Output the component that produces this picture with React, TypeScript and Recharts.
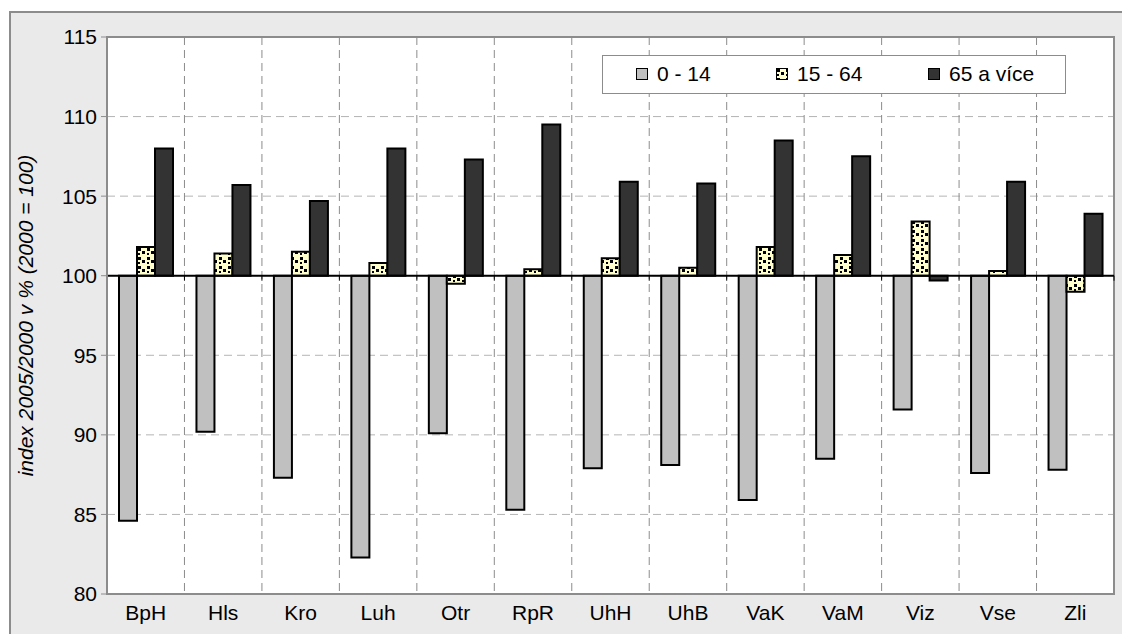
import React from 'react';
import {
  BarChart, Bar, XAxis, YAxis, CartesianGrid, ReferenceLine, ReferenceArea, Label,
} from 'recharts';

// okresy Zlínského kraje
const districts = ['BpH', 'Hls', 'Kro', 'Luh', 'Otr', 'RpR', 'UhH', 'UhB', 'VaK', 'VaM', 'Viz', 'Vse', 'Zli'];

// index 2005/2000 v %
const age0to14 = [84.6, 90.2, 87.3, 82.3, 90.1, 85.3, 87.9, 88.1, 85.9, 88.5, 91.6, 87.6, 87.8];
const age15to64 = [101.8, 101.4, 101.5, 100.8, 99.5, 100.4, 101.1, 100.5, 101.8, 101.3, 103.4, 100.3, 99.0];
const age65plus = [108.0, 105.7, 104.7, 108.0, 107.3, 109.5, 105.9, 105.8, 108.5, 107.5, 99.7, 105.9, 103.9];

const yTicks = [80, 85, 90, 95, 100, 105, 110, 115];
const seriesNames = ['0 - 14', '15 - 64', '65 a více'];

const BASE = 100;

const data = districts.map((name, i) => ({
  name,
  young: age0to14[i],
  middle: age15to64[i],
  old: age65plus[i],
}));

const FONT = '"Liberation Sans", Arial, sans-serif';
const FS = 21;
const fills = ['#c0c0c0', 'url(#dotsPattern)', '#333333'];

const LegendBox = () => {
  const lefts = [33, 173, 325];
  return (
    <div
      style={{
        position: 'absolute',
        left: 591,
        top: 42,
        width: 462,
        height: 37,
        background: '#fff',
        border: '1px solid #8c8c8c',
        fontFamily: FONT,
        fontSize: FS,
        color: '#000',
      }}
    >
      {seriesNames.map((s, i) => (
        <div key={s} style={{ position: 'absolute', left: lefts[i], top: 6, display: 'flex', alignItems: 'center', whiteSpace: 'nowrap' }}>
          <svg width={12} height={12} style={{ marginRight: 9 }}>
            <rect x={0.5} y={0.5} width={11} height={11} fill={fills[i]} stroke="#000" strokeWidth={1} />
          </svg>
          <span>{s}</span>
        </div>
      ))}
    </div>
  );
};

// linie 100 s drobnými značkami na hranicích kategorií
const BaseLine = (props: any) => {
  const { x1, x2, y1 } = props;
  const step = (x2 - x1) / districts.length;
  return (
    <g>
      <line x1={x1} x2={x2} y1={y1} y2={y1} stroke="#000" strokeWidth={2} />
      {districts.map((_, i) => (
        <line key={i} x1={x1 + i * step} x2={x1 + i * step} y1={y1} y2={y1 + 5} stroke="#000" strokeWidth={1} />
      ))}
      <line x1={x2} x2={x2} y1={y1} y2={y1 + 5} stroke="#000" strokeWidth={1} />
    </g>
  );
};

export default function App() {
  return (
    <div style={{ paddingTop: 3, paddingLeft: 1 }}>
      <svg width={0} height={0} style={{ position: 'absolute' }}>
        <defs>
          <pattern id="dotsPattern" width={9} height={9} patternUnits="userSpaceOnUse">
            <rect width={9} height={9} fill="#ffffcc" />
            <rect x={1} y={1} width={3} height={3} fill="#000" />
            <rect x={5} y={4} width={3} height={3} fill="#000" />
            <rect x={1} y={6} width={2} height={2} fill="#000" />
          </pattern>
        </defs>
      </svg>
      <div
        style={{
          position: 'relative',
          width: 1116,
          height: 640,
          background: '#eaeaea',
          border: '2px solid #8c8c8c',
        }}
      >
        <BarChart
          width={1116}
          height={620}
          data={data}
          margin={{ top: 24, right: 13, left: 0, bottom: 9 }}
          barCategoryGap={12}
          barGap={0}
        >
          <CartesianGrid
            vertical={false}
            fill="#ffffff"
            stroke="#b4b4b4"
            strokeDasharray="8 5"
          />
          <CartesianGrid
            horizontal={false}
            stroke="#8c8c8c"
            strokeDasharray="8 5"
            verticalCoordinatesGenerator={({ offset }: any) =>
              districts.slice(1).map((_, i) => offset.left + ((i + 1) * offset.width) / districts.length)
            }
          />
          <XAxis
            dataKey="name"
            height={30}
            tickLine={false}
            axisLine={{ stroke: '#8c8c8c', strokeWidth: 2 }}
            tick={{ fill: '#000', fontSize: FS, fontFamily: FONT }}
            tickMargin={5}
            interval={0}
          />
          <YAxis
            width={96}
            domain={[80, 115]}
            ticks={yTicks}
            interval={0}
            axisLine={{ stroke: '#8c8c8c', strokeWidth: 2 }}
            tickLine={{ stroke: '#8c8c8c' }}
            tickSize={6}
            tickMargin={4}
            tick={{ fill: '#000', fontSize: FS, fontFamily: FONT }}
          >
            <Label
              value="index 2005/2000 v % (2000 = 100)"
              angle={-90}
              position="insideLeft"
              offset={15}
              style={{ textAnchor: 'middle', fontStyle: 'italic', fontSize: FS, fontFamily: FONT, fill: '#000' }}
            />
          </YAxis>
          <Bar dataKey={(d: any) => [BASE, d.young]} name={seriesNames[0]} fill={fills[0]} stroke="#000" strokeWidth={2} isAnimationActive={false} />
          <Bar dataKey={(d: any) => [BASE, d.middle]} name={seriesNames[1]} fill={fills[1]} stroke="#000" strokeWidth={2} isAnimationActive={false} />
          <Bar dataKey={(d: any) => [BASE, d.old]} name={seriesNames[2]} fill={fills[2]} stroke="#000" strokeWidth={2} isAnimationActive={false} />
          <ReferenceLine y={BASE} shape={BaseLine} />
          <ReferenceArea y1={80} y2={115} fill="none" stroke="#8c8c8c" strokeWidth={2} strokeOpacity={1} />
        </BarChart>
        <LegendBox />
      </div>
    </div>
  );
}
